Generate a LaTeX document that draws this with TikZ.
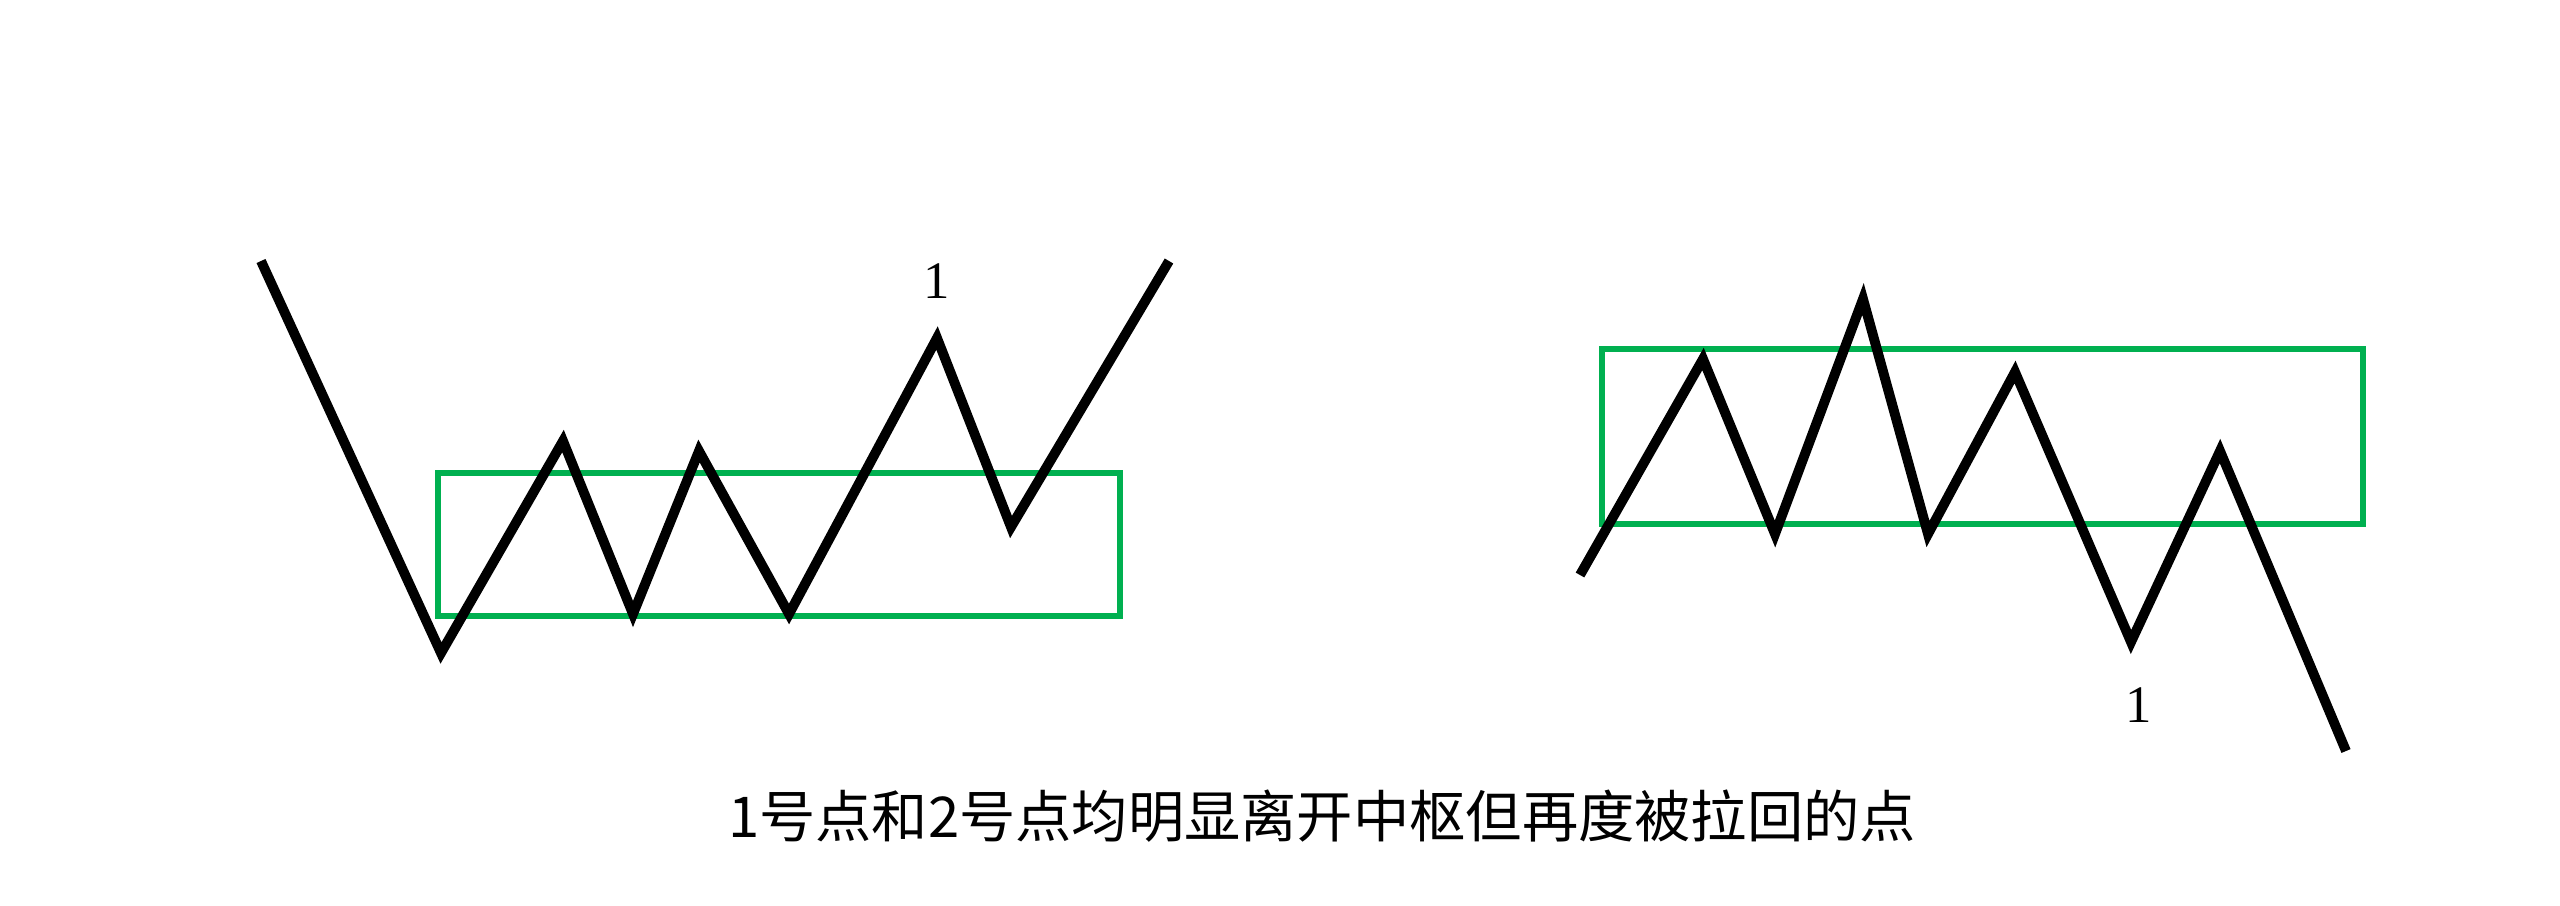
\documentclass[tikz,border=0pt]{standalone}
\usepackage{fontspec}
\setmainfont{Liberation Serif}
\newfontfamily\cjk{Noto Sans CJK SC}
\definecolor{boxgreen}{RGB}{0,176,80}
\begin{document}
\begin{tikzpicture}[x=0.01cm, y=-0.01cm, wave/.style = {draw, line width=2.8pt, line join=miter},
    zone/.style = {draw=boxgreen, line width=1.8pt}, mark1/.style = {font=\fontsize{15}{18}\selectfont}]
    \useasboundingbox (0,0) rectangle (2560,905);
    %left: up-trend
    \coordinate (a1) at (261,261);
    \coordinate (a2) at (441,653);
    \coordinate (a3) at (563,441);
    \coordinate (a4) at (633,614);
    \coordinate (a5) at (699,451);
    \coordinate (a6) at (789,614);
    \coordinate (a7) at (937,338);
    \coordinate (a8) at (1011,527);
    \coordinate (a9) at (1169,261);
    \draw[zone] (438,473) rectangle (1120,616);
    \draw[wave] (a1) -- (a2) -- (a3) -- (a4) -- (a5) -- (a6) -- (a7) -- (a8) -- (a9);
    \node[mark1] (p1) at (937,281) {1};
    %right: down-trend
    \coordinate (b1) at (1580,575);
    \coordinate (b2) at (1703,359);
    \coordinate (b3) at (1775,534);
    \coordinate (b4) at (1863,299);
    \coordinate (b5) at (1928,534);
    \coordinate (b6) at (2015,372);
    \coordinate (b7) at (2131,642);
    \coordinate (b8) at (2220,451);
    \coordinate (b9) at (2346,751);
    \draw[zone] (1602,349) rectangle (2363,524);
    \draw[wave] (b1) -- (b2) -- (b3) -- (b4) -- (b5) -- (b6) -- (b7) -- (b8) -- (b9);
    \node[mark1] (p2) at (2139,705) {1};
    \node[font=\cjk\fontsize{16}{19}\selectfont] (caption) at (1322,816) {1号点和2号点均明显离开中枢但再度被拉回的点};
\end{tikzpicture}
\end{document}
